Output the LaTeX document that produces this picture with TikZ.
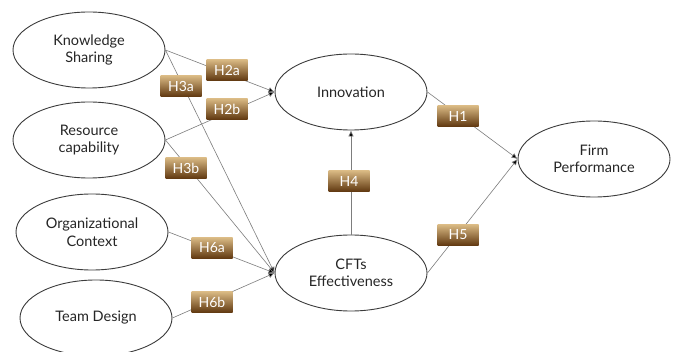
\documentclass[tikz,border=0pt]{standalone}
\usepackage{fontspec}
\setmainfont{Lato}
\usetikzlibrary{shapes.geometric,arrows.meta}
\definecolor{tanlight}{RGB}{218,186,132}
\definecolor{tandark}{RGB}{96,56,16}
\definecolor{edgegray}{RGB}{60,60,60}
\definecolor{linegray}{RGB}{125,125,125}
\begin{document}
\begin{tikzpicture}[x=1pt,y=-1pt,
  construct/.style={ellipse,draw=edgegray,line width=0.9pt,fill=white,
    minimum width=152pt,minimum height=76pt,inner sep=0pt,align=center,
    font=\fontsize{14.5}{17.5}\selectfont,text=black!85},
  hyp/.style={rectangle,top color=tanlight,bottom color=tandark,
    minimum width=41pt,minimum height=21pt,inner sep=0pt,
    text=white,font=\fontsize{14}{16}\selectfont},
  link/.style={draw=linegray,line width=0.6pt,
    -{Latex[length=6pt,width=5.5pt,fill=black]}},
  plain/.style={draw=linegray,line width=0.6pt}]
\useasboundingbox (0,0) rectangle (677,352);
\fill[white] (0,0) rectangle (677,352);
% constructs
\node[construct] (ks) at (89,50) {Knowledge\\Sharing};
\node[construct] (rc) at (89,140) {Resource\\capability};
\node[construct] (oc) at (92,232) {Organizational\\Context};
\node[construct] (td) at (96,318) {Team Design};
\node[construct] (inn) at (351,92) {Innovation};
\node[construct] (cft) at (351,273) {CFTs\\Effectiveness};
\node[construct] (fp) at (594,159) {Firm\\Performance};
% connectors
\draw[link] (ks.east) -- (inn.west);
\draw[link] (ks.east) -- (cft.west);
\draw[link] (rc.east) -- (inn.west);
\draw[link] (rc.east) -- (cft.west);
\draw[link] (oc.east) -- (cft.west);
\draw[link] (td.east) -- (cft.west);
\draw[link] (cft.north) -- (inn.south);
\draw[link] (inn.east) -- (fp.west);
\draw[link] (cft.east) -- (fp.west);
% hypothesis labels
\node[hyp] (h2a) at (227,70) {H2a};
\node[hyp] (h3a) at (181,86) {H3a};
\node[hyp] (h2b) at (227,109) {H2b};
\node[hyp] (h3b) at (186,168) {H3b};
\node[hyp] (h6a) at (212,248) {H6a};
\node[hyp] (h6b) at (212,302) {H6b};
\node[hyp] (h4) at (349,181) {H4};
\node[hyp] (h1) at (458,116) {H1};
\node[hyp] (h5) at (458,235) {H5};
\end{tikzpicture}
\end{document}
